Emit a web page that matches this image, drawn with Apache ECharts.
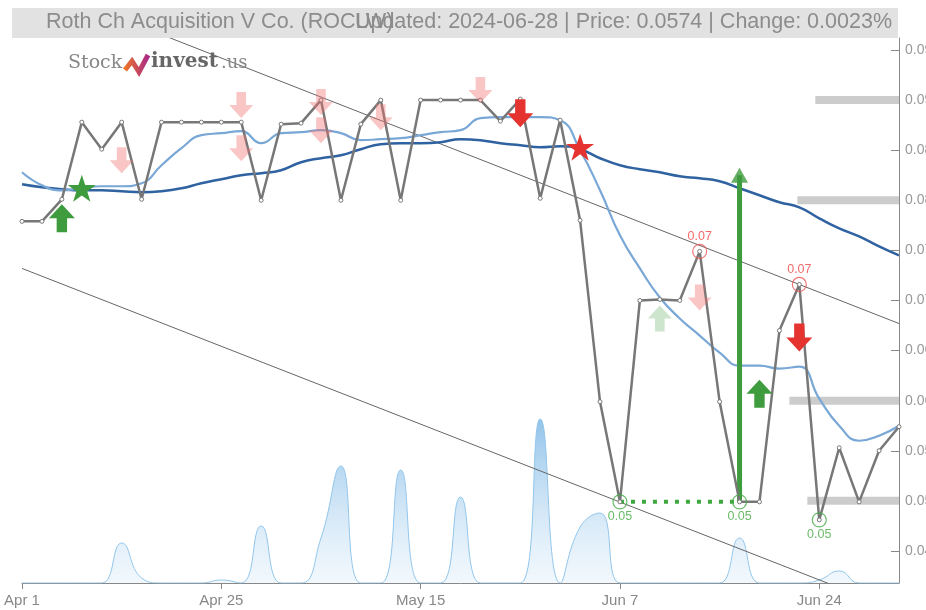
<!DOCTYPE html>
<html><head><meta charset="utf-8">
<script src="https://cdn.jsdelivr.net/npm/echarts@6/dist/echarts.min.js"></script>
<style>html,body{margin:0;padding:0;background:#fff}#c{width:926px;height:610px}</style>
</head><body><div id="c"></div>
<script>
const dates = ['Apr 1','Apr 3','Apr 5','Apr 8','Apr 10','Apr 12','Apr 16','Apr 18','Apr 22','Apr 23',
  'Apr 25','Apr 26','Apr 29','May 1','May 3','May 6','May 8','May 9','May 10','May 14',
  'May 15','May 16','May 17','May 20','May 21','May 22','May 24','May 29','May 31','Jun 4',
  'Jun 7','Jun 10','Jun 11','Jun 12','Jun 13','Jun 14','Jun 17','Jun 18','Jun 20','Jun 21',
  'Jun 24','Jun 25','Jun 26','Jun 27','Jun 28'];
const price = [0.0779,0.0779,0.0801,0.0878,0.0851,0.0878,0.0801,0.0878,0.0878,0.0878,
  0.0878,0.0878,0.0800,0.0876,0.0877,0.0900,0.0800,0.0876,0.0900,0.0800,
  0.0900,0.0900,0.0900,0.0900,0.0879,0.0901,0.0802,0.0880,0.0780,0.0599,
  0.0499,0.0700,0.0701,0.0700,0.0749,0.0599,0.0499,0.0499,0.0670,0.0716,
  0.0481,0.0553,0.0499,0.0550,0.0574];
const maShort = [0.0828,0.0815,0.0810,0.0812,0.0814,0.0814,0.0817,0.0835,0.0852,0.0865,
  0.0867,0.0869,0.0857,0.0867,0.0868,0.0870,0.0867,0.0860,0.0861,0.0862,
  0.0865,0.0868,0.0870,0.0882,0.0883,0.0883,0.0883,0.0880,0.0850,0.0810,
  0.0765,0.0732,0.0703,0.0682,0.0665,0.0648,0.0635,0.0635,0.0632,0.0634,
  0.0602,0.0575,0.0560,0.0565,0.0575];
const maLong = [0.0816,0.0813,0.0811,0.0810,0.0810,0.0809,0.0808,0.0809,0.0812,0.0817,
  0.0821,0.0825,0.0827,0.0830,0.0838,0.0842,0.0845,0.0851,0.0856,0.0857,
  0.0857,0.0858,0.0861,0.0860,0.0857,0.0855,0.0853,0.0854,0.0851,0.0842,
  0.0835,0.0831,0.0828,0.0824,0.0822,0.0819,0.0812,0.0805,0.0798,0.0793,
  0.0782,0.0772,0.0764,0.0754,0.0745];
const volume = [0,0,0,0,0,4000,500,0,0,0,
  300,0,5700,0,0,4500,11700,0,0,11300,
  0,0,8600,0,0,0,16400,0,5600,7000,
  0,0,0,0,0,0,4500,0,0,0,
  300,1200,0,0,0];
const upperChannel = [[0,0.1020],[44,0.0677]];
const lowerChannel = [[0,0.0732],[44,0.0390]];
const resistanceLevels = [[39.8,0.09],[38.9,0.08],[38.5,0.06],[39.4,0.05]];
const sellFaded = [[5,0.0840],[11,0.0895],[11,0.0852],[15,0.0898],[15,0.0870],[18,0.0883],[23,0.0910],[34,0.0703]];
const sellStrong = [[25,0.0887],[39,0.0663]];
const buyStrong = [[2,0.0782],[37,0.0607]];
const buyFaded = [[32,0.0682]];
const starBuy = [[3,0.0812]];
const starSell = [[28,0.0853]];
const highMarks = [[34,0.0749],[39,0.0716]];
const lowMarks = [[30,0.0499],[36,0.0499],[40,0.0481]];
const supportRun = [[30,0.0499],[36,0.0499]];
const breakoutArrow = [[36,0.0499],[36,0.0825]];

const DOWN = 'path://M30,0 L70,0 L70,50 L100,50 L50,100 L0,50 L30,50 Z';
const UP = 'path://M50,0 L100,50 L70,50 L70,100 L30,100 L30,50 L0,50 Z';
const STAR = 'path://M50,0 L61.8,35.5 L99,35.5 L69,57.6 L80.3,93.3 L50,71.2 L19.7,93.3 L31,57.6 L1,35.5 L38.2,35.5 Z';
const RED = '#e53430', GREEN = '#3e9c3e';

const chart = echarts.init(document.getElementById('c'));
const series = [];
series.push({type:'line', yAxisIndex:1, data:volume, smooth:true, symbol:'none', z:1,
  lineStyle:{color:'#92c6ec', width:1},
  areaStyle:{color:new echarts.graphic.LinearGradient(0,0,0,1,[{offset:0,color:'rgba(90,165,222,0.95)'},{offset:1,color:'rgba(200,225,246,0.35)'}])}});
[upperChannel, lowerChannel].forEach(d => series.push({type:'line', data:d, symbol:'none', z:2,
  lineStyle:{color:'#666', width:1}}));
resistanceLevels.forEach(r => series.push({type:'line', xAxisIndex:1, data:[[r[0],r[1]],[dates.length-1,r[1]]], symbol:'none', z:2,
  lineStyle:{color:'#cccccc', width:8}}));
series.push({type:'line', data:maLong, smooth:true, symbol:'none', z:3, lineStyle:{color:'#2f62a0', width:2.5}});
series.push({type:'line', data:maShort, smooth:true, symbol:'none', z:3, lineStyle:{color:'#79a7d6', width:2.2}});
series.push({type:'line', data:supportRun, symbol:'none', z:4, lineStyle:{color:'#3ea83e', width:4, type:[4,7]}});
series.push({type:'line', data:breakoutArrow, symbol:'none', z:4, lineStyle:{color:GREEN, width:5}});
series.push({type:'scatter', data:[breakoutArrow[1]], symbol:'triangle', symbolSize:[17,15], z:4, itemStyle:{color:GREEN}});
series.push({type:'line', data:price, symbol:'circle', symbolSize:4, showAllSymbol:true, z:5,
  lineStyle:{color:'#777', width:2.5}, itemStyle:{color:'#fff', borderColor:'#777', borderWidth:1}});
function scat(data, sym, size, color, z){
  return {type:'scatter', data, symbol:sym, symbolSize:size, z:z||6, itemStyle:{color, opacity:1}};
}
series.push(scat(sellFaded, DOWN, [24,26], 'rgba(240,110,110,0.4)'));
series.push(scat(buyFaded, UP, [24,26], 'rgba(90,170,90,0.3)'));
series.push(scat(sellStrong, DOWN, [26,28], RED));
series.push(scat(buyStrong, UP, [26,28], GREEN));
series.push(scat(starBuy, STAR, [28,27], GREEN));
series.push(scat(starSell, STAR, [28,27], RED));
series.push({type:'scatter', data:highMarks, symbol:'circle', symbolSize:14, z:7,
  itemStyle:{color:'rgba(0,0,0,0)', borderColor:'#ee5555', borderWidth:1.2},
  label:{show:true, position:'top', distance:1, color:'#ee4444', fontSize:12.5, formatter:p=>p.value[1].toFixed(2)}});
series.push({type:'scatter', data:lowMarks, symbol:'circle', symbolSize:14, z:7,
  itemStyle:{color:'rgba(0,0,0,0)', borderColor:'#44aa44', borderWidth:1.2},
  label:{show:true, position:'bottom', distance:1, color:'#44aa44', fontSize:12.5, formatter:p=>p.value[1].toFixed(2)}});

chart.setOption({
  animation:false,
  grid:{left:22, right:27, top:38, bottom:27, containLabel:false, outerBoundsMode:'none'},
  xAxis:[{type:'category', data:dates, boundaryGap:false,
    axisLine:{onZero:false, lineStyle:{color:'#888'}},
    axisTick:{interval:9, length:6, lineStyle:{color:'#888'}},
    axisLabel:{interval:9, color:'#888', fontSize:15, margin:10, fontFamily:'Liberation Sans'},
    splitLine:{show:false}},
    {type:'value', min:0, max:dates.length-1, show:false}],
  yAxis:[{type:'value', position:'right', min:0.0418, max:0.0962, splitNumber:11, scale:true,
    axisLine:{show:true, onZero:false, lineStyle:{color:'#888'}},
    axisTick:{show:true, inside:true, length:8, lineStyle:{color:'#888'}},
    axisLabel:{color:'#999', fontSize:14, margin:6, showMinLabel:false, showMaxLabel:false,
      fontFamily:'Liberation Sans', formatter:v=>v.toFixed(3)},
    splitLine:{show:false}},
    {type:'value', min:0, max:54500, show:false}],
  graphic:[
    {type:'rect', left:12, top:8, shape:{width:886, height:30}, style:{fill:'#e2e2e2'}, z:100},
    {type:'text', left:46, top:11, style:{text:'Roth Ch Acquisition V Co. (ROCLW)', fill:'#8c8c8c', font:'21.5px "Liberation Sans"'}, z:101},
    {type:'text', right:926-892, top:11, style:{text:'Updated: 2024-06-28 | Price: 0.0574 | Change: 0.0023%', fill:'#8c8c8c', font:'21.5px "Liberation Sans"'}, z:101},
    {type:'text', left:68, top:54, style:{text:'Stock', fill:'#888', font:'19px "DejaVu Serif"'}, z:101},
    {type:'polyline', shape:{points:[[125,70],[132,61],[139,72],[148,55]]}, z:101,
      style:{lineWidth:5, fill:null, stroke:new echarts.graphic.LinearGradient(0,0,1,0,[{offset:0,color:'#f47a20'},{offset:1,color:'#a3238f'}])}},
    {type:'text', left:151, top:52, style:{text:'invest', fill:'#666', font:'bold 20px "DejaVu Serif"'}, z:101},
    {type:'text', left:221, top:54, style:{text:'.us', fill:'#888', font:'18px "DejaVu Serif"'}, z:101}
  ],
  series
});
</script></body></html>
